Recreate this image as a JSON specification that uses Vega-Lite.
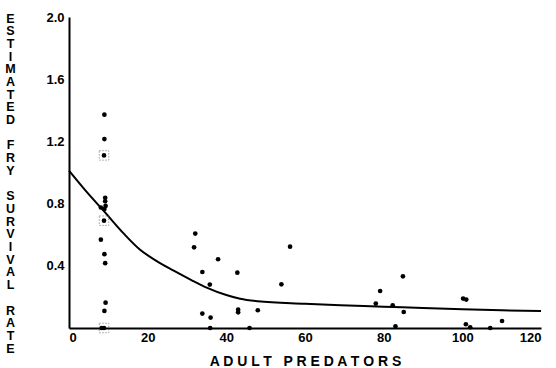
{
  "$schema": "https://vega.github.io/schema/vega-lite/v6.json",
  "autosize": {"type": "none"},
  "padding": {"left": 69, "top": 17, "right": 15, "bottom": 40},
  "width": 472,
  "height": 311,
  "background": "white",
  "config": {
    "view": {"stroke": null},
    "font": "Liberation Sans",
    "axis": {
      "grid": false,
      "domainColor": "black",
      "domainWidth": 2,
      "ticks": false,
      "labelColor": "black",
      "labelFont": "Liberation Sans",
      "labelFontWeight": "bold",
      "labelFontSize": 13,
      "titleColor": "black",
      "titleFont": "Liberation Sans",
      "titleFontWeight": "bold"
    }
  },
  "datasets": {
    "pts": [
      {"x": 9.0, "y": 1.372, "kind": "pt"},
      {"x": 9.0, "y": 1.215, "kind": "pt"},
      {"x": 8.9, "y": 1.11, "kind": "box"},
      {"x": 9.2, "y": 0.837, "kind": "pt"},
      {"x": 9.2, "y": 0.815, "kind": "pt"},
      {"x": 8.1, "y": 0.775, "kind": "pt"},
      {"x": 9.0, "y": 0.765, "kind": "pt"},
      {"x": 9.3, "y": 0.785, "kind": "pt"},
      {"x": 8.9, "y": 0.69, "kind": "box"},
      {"x": 8.1, "y": 0.568, "kind": "pt"},
      {"x": 9.0, "y": 0.475, "kind": "pt"},
      {"x": 9.2, "y": 0.417, "kind": "pt"},
      {"x": 9.3, "y": 0.163, "kind": "pt"},
      {"x": 9.0, "y": 0.11, "kind": "pt"},
      {"x": 8.3, "y": 0.0, "kind": "pt"},
      {"x": 8.9, "y": 0.0, "kind": "box"},
      {"x": 32.1, "y": 0.607, "kind": "pt"},
      {"x": 31.8, "y": 0.519, "kind": "pt"},
      {"x": 37.9, "y": 0.442, "kind": "pt"},
      {"x": 33.9, "y": 0.36, "kind": "pt"},
      {"x": 42.8, "y": 0.356, "kind": "pt"},
      {"x": 56.2, "y": 0.523, "kind": "pt"},
      {"x": 54.0, "y": 0.281, "kind": "pt"},
      {"x": 35.8, "y": 0.279, "kind": "pt"},
      {"x": 33.9, "y": 0.093, "kind": "pt"},
      {"x": 36.0, "y": 0.067, "kind": "pt"},
      {"x": 43.0, "y": 0.118, "kind": "pt"},
      {"x": 43.0, "y": 0.101, "kind": "pt"},
      {"x": 48.0, "y": 0.114, "kind": "pt"},
      {"x": 35.9, "y": 0.0, "kind": "pt"},
      {"x": 45.9, "y": 0.0, "kind": "pt"},
      {"x": 84.9, "y": 0.332, "kind": "pt"},
      {"x": 79.1, "y": 0.238, "kind": "pt"},
      {"x": 78.0, "y": 0.157, "kind": "pt"},
      {"x": 82.3, "y": 0.146, "kind": "pt"},
      {"x": 85.1, "y": 0.103, "kind": "pt"},
      {"x": 100.2, "y": 0.189, "kind": "pt"},
      {"x": 101.0, "y": 0.183, "kind": "pt"},
      {"x": 83.0, "y": 0.011, "kind": "pt"},
      {"x": 100.9, "y": 0.024, "kind": "pt"},
      {"x": 102.0, "y": 0.005, "kind": "pt"},
      {"x": 107.1, "y": 0.0, "kind": "pt"},
      {"x": 110.1, "y": 0.045, "kind": "pt"}
    ],
    "curve": [
      {"x": 0, "y": 1.012},
      {"x": 4, "y": 0.89},
      {"x": 9, "y": 0.748},
      {"x": 14, "y": 0.605},
      {"x": 18, "y": 0.505},
      {"x": 22, "y": 0.435},
      {"x": 26.5, "y": 0.37},
      {"x": 31, "y": 0.31},
      {"x": 35, "y": 0.26},
      {"x": 40, "y": 0.212},
      {"x": 43.5, "y": 0.188},
      {"x": 48, "y": 0.172},
      {"x": 60, "y": 0.156},
      {"x": 69, "y": 0.146},
      {"x": 80, "y": 0.137},
      {"x": 90, "y": 0.128},
      {"x": 100, "y": 0.12},
      {"x": 110, "y": 0.114},
      {"x": 120, "y": 0.109}
    ]
  },
  "layer": [
    {
      "data": {"name": "curve"},
      "mark": {"type": "line", "color": "black", "strokeWidth": 2, "interpolate": "monotone", "clip": false},
      "encoding": {
        "x": {
          "field": "x", "type": "quantitative",
          "scale": {"domain": [0, 120], "nice": false},
          "axis": {
            "values": [0, 20, 40, 60, 80, 100, 120],
            "labelPadding": 3,
            "title": "A D U L T \u00a0\u00a0P R E D A T O R S",
            "titleFontSize": 14,
            "titleBaseline": "alphabetic",
            "titleY": 37
          }
        },
        "y": {
          "field": "y", "type": "quantitative",
          "scale": {"domain": [0, 2], "nice": false},
          "axis": {
            "values": [0.4, 0.8, 1.2, 1.6, 2.0],
            "format": ".1f",
            "labelPadding": 5,
            "title": ["E","S","T","I","M","A","T","E","D","\u2800","F","R","Y","\u2800","S","U","R","V","I","V","A","L","\u2800","R","A","T","E"],
            "titleAngle": 0,
            "titleFontSize": 12.5,
            "titleLineHeight": 12.7,
            "titleAlign": "center",
            "titleBaseline": "top",
            "titleX": -59,
            "titleY": -5
          }
        }
      }
    },
    {
      "data": {"name": "pts"},
      "mark": {"type": "circle", "color": "black", "opacity": 1, "size": 22, "clip": false},
      "encoding": {
        "x": {"field": "x", "type": "quantitative"},
        "y": {"field": "y", "type": "quantitative"}
      }
    },
    {
      "data": {"name": "pts"},
      "transform": [{"filter": "datum.kind === 'box'"}],
      "mark": {"type": "square", "filled": false, "stroke": "#555555", "strokeWidth": 0.8, "strokeDash": [1.5, 1.5], "size": 90, "clip": false},
      "encoding": {
        "x": {"field": "x", "type": "quantitative"},
        "y": {"field": "y", "type": "quantitative"}
      }
    }
  ]
}
